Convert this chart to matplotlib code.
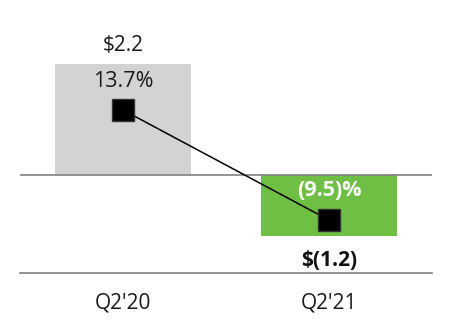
import matplotlib
matplotlib.use("Agg")
import matplotlib.pyplot as plt

plt.rcParams['font.family'] = ['Open Sans', 'DejaVu Sans']

quarters = ["Q2'20", "Q2'21"]
income = [2.2, -1.2]
income_labels = ["$2.2", "$(1.2)"]
margin = [13.7, -9.5]
margin_labels = ["13.7%", "(9.5)%"]
bar_colors = ["#D3D3D3", "#6FBF44"]


def main():
    fig = plt.figure(figsize=(4.52, 3.32), dpi=100)
    ax = fig.add_axes([20 / 452, 59 / 332, 412 / 452, 273 / 332])
    x = list(range(len(quarters)))

    ax.bar(x, income, width=0.66, color=bar_colors, zorder=1)
    ax.axhline(0, color="#808080", lw=1.2, zorder=2)
    ax.set_xlim(-0.5, 1.5)
    ymin, ymax = -1.94, 3.465
    ax.set_ylim(ymin, ymax)

    for s in ["top", "left", "right"]:
        ax.spines[s].set_visible(False)
    ax.spines["bottom"].set_color("#808080")
    ax.spines["bottom"].set_linewidth(1.2)
    ax.set_yticks([])
    ax.set_xticks(x)
    ax.set_xticklabels(quarters, fontsize=15, color="#1a1a1a")
    ax.tick_params(axis="x", length=0, pad=14)

    # value labels
    ax.annotate(income_labels[0], (x[0], income[0]), xytext=(0, 18),
                textcoords="offset pixels", ha="center", va="center",
                fontsize=15, color="#1a1a1a")
    ax.annotate(income_labels[1], (x[1], income[1]), xytext=(0, -25),
                textcoords="offset pixels", ha="center", va="center",
                fontsize=15, fontweight="bold", color="#111111")

    # margin line on a twin axis
    ax2 = ax.twinx()
    k = 10.65
    ax2.set_ylim(ymin * k, ymax * k)
    ax2.axis("off")
    ax2.plot(x, margin, color="black", lw=1.1, marker="s", markersize=16,
             markerfacecolor="black", markeredgecolor="#333333", zorder=3)
    ax2.annotate(margin_labels[0], (x[0], margin[0]), xytext=(0, 29),
                 textcoords="offset pixels", ha="center", va="center",
                 fontsize=15.5, color="#1a1a1a")
    ax2.annotate(margin_labels[1], (x[1], margin[1]), xytext=(0, 30),
                 textcoords="offset pixels", ha="center", va="center",
                 fontsize=15.5, fontweight="bold", color="white")

    fig.savefig("out.png", dpi=100)


if __name__ == "__main__":
    main()
